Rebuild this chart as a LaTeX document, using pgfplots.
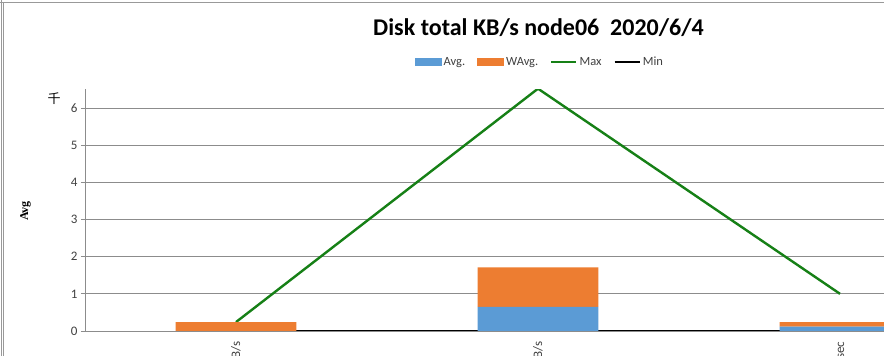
\documentclass[border=0pt]{standalone}
\usepackage{fontspec}
\setmainfont{Carlito}
\newfontfamily\serifb{Liberation Serif}
\newfontfamily\cjk{Noto Sans CJK SC}
\usepackage{pgfplots}
\pgfplotsset{compat=1.18}
\definecolor{cblue}{RGB}{91,155,213}
\definecolor{corange}{RGB}{237,125,49}
\definecolor{cgreen}{RGB}{22,128,22}
\definecolor{gridgray}{RGB}{140,140,140}
\definecolor{txtgray}{RGB}{64,64,64}
\begin{document}
\begin{tikzpicture}
\path[use as bounding box, clip] (0pt,0pt) rectangle (884pt,356pt);
\fill[white] (0pt,0pt) rectangle (884pt,356pt);
% outer frame
\draw[gray!80, line width=0.8pt] (1pt,0pt) -- (1pt,356pt);
\draw[gray!80, line width=0.8pt] (3.6pt,0pt) -- (3.6pt,354pt);
\draw[gray!80, line width=0.8pt] (0pt,354pt) -- (884pt,354pt);
\begin{axis}[
  at={(85pt,25pt)}, anchor=south west,
  scale only axis, width=906pt, height=241.6pt,
  xmin=-0.5, xmax=2.5, ymin=0, ymax=6.5,
  ybar stacked, bar width=0.4,
  axis lines*=left,
  axis line style={draw=gridgray, line width=0.8pt},
  ymajorgrids, grid style={draw=gridgray, line width=0.8pt},
  ytick={0,1,2,3,4,5,6},
  tick align=outside,
  major tick length=4pt,
  tick style={draw=gridgray, line width=0.8pt},
  yticklabel style={font=\fontsize{13}{13}\selectfont, text=txtgray},
  /pgf/number format/assume math mode=true,
  xtick={0,1,2},
  xticklabels={Disk Read KB/s, Disk Write KB/s, IO/sec},
  x tick style={draw=none},
  x tick label style={rotate=90, anchor=east, font=\fontsize{13}{13}\selectfont, text=txtgray},
  xticklabel shift=3pt,
  extra x ticks={-0.5,0.5,1.5,2.5},
  extra x tick labels={},
  extra x tick style={grid=none, major tick length=6pt, tick style={draw=gridgray, line width=0.8pt}},
  legend columns=4,
  legend style={at={(0.502,1.113)}, anchor=center, draw=none, fill=none,
    font=\fontsize{12.5}{12.5}\selectfont, text=txtgray,
    /tikz/every even column/.append style={column sep=10pt}},
]
\addplot[fill=cblue, draw=none,
  legend image code/.code={\fill[cblue] (0pt,-4pt) rectangle (27pt,4pt);}]
  coordinates {(0,0.0) (1,0.65) (2,0.12)};
\addlegendentry{Avg.}
\addplot[fill=corange, draw=none,
  legend image code/.code={\fill[corange] (0pt,-4pt) rectangle (27pt,4pt);}]
  coordinates {(0,0.24) (1,1.06) (2,0.12)};
\addlegendentry{WAvg.}
\addplot[sharp plot, stack plots=false, draw=cgreen, line width=2.4pt, mark=none,
  legend image code/.code={\draw[cgreen, line width=2.4pt] (0pt,0pt) -- (25pt,0pt);}]
  coordinates {(0,0.24) (1,6.52) (2,1.0)};
\addlegendentry{Max}
\addplot[sharp plot, stack plots=false, draw=black, line width=2.2pt, mark=none,
  legend image code/.code={\draw[black, line width=2.2pt] (0pt,0pt) -- (25pt,0pt);}]
  coordinates {(0,0.01) (1,0.01) (2,0.01)};
\addlegendentry{Min}
\end{axis}
\node[font=\bfseries\fontsize{24}{24}\selectfont] at (538.5pt,328pt) {Disk total KB/s node06~~2020/6/4};
\node[rotate=90, font=\serifb\bfseries\fontsize{12}{12}\selectfont] at (25.5pt,145pt) {Avg};
\node[font=\cjk\fontsize{13}{13}\selectfont] at (54pt,257.5pt) {千};
\end{tikzpicture}
\end{document}
